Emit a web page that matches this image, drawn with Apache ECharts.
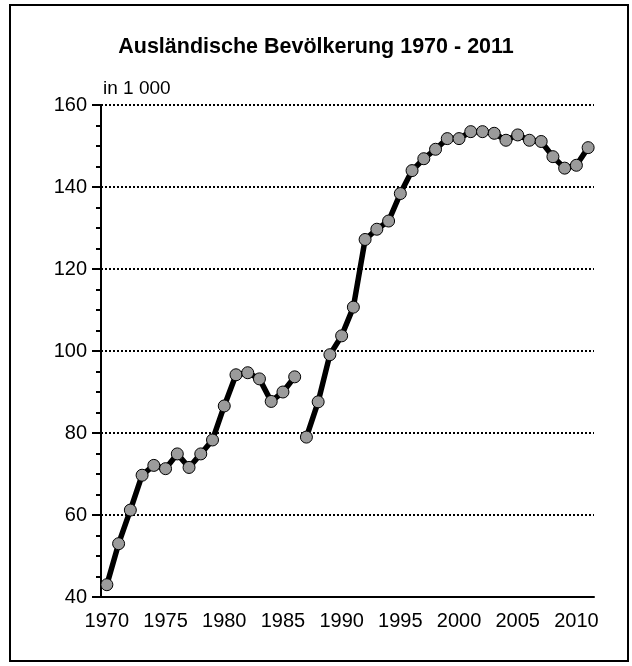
<!DOCTYPE html>
<html>
<head>
<meta charset="utf-8">
<script src="https://cdn.jsdelivr.net/npm/echarts@6/dist/echarts.min.js"></script>
<style>
  html, body { margin: 0; padding: 0; background: #fff; }
  #main { width: 632px; height: 666px; }
</style>
</head>
<body>
<div id="main"></div>
<script>
// Jahre 1970 - 2011
var years = [];
for (var y = 1970; y <= 2011; y++) years.push(String(y));

// Ausländische Bevölkerung in 1 000 (Bruch zwischen 1986 und 1987)
var valuesBefore = [43.0, 53.0, 61.2, 69.7, 72.1, 71.3, 74.9, 71.6, 74.9, 78.3,
                    86.6, 94.2, 94.7, 93.2, 87.7, 90.0, 93.7];
var valuesAfter = [79.0, 87.6, 99.1, 103.7, 110.7, 127.2, 129.7, 131.7, 138.4, 144.0,
                   146.9, 149.2, 151.8, 151.8, 153.5, 153.5, 153.1, 151.4, 152.7, 151.4,
                   151.1, 147.4, 144.6, 145.3, 149.6];

var yTicks = [40, 60, 80, 100, 120, 140, 160];

var dataA = valuesBefore.concat(valuesAfter.map(function () { return null; }));
var dataB = valuesBefore.map(function () { return null; }).concat(valuesAfter);

var font = '"Liberation Sans", Arial, sans-serif';

var myChart = echarts.init(document.getElementById('main'));

var lineSeries = function (data) {
  return {
    type: 'line',
    data: data,
    xAxisIndex: 0,
    symbol: 'circle',
    symbolSize: 12,
    showAllSymbol: true,
    connectNulls: false,
    lineStyle: { color: '#000', width: 5.5 },
    itemStyle: { color: '#9b9b9b', borderColor: '#000', borderWidth: 1 },
    z: 5
  };
};

var option = {
  animation: false,
  title: {
    text: 'Ausländische Bevölkerung 1970 - 2011',
    left: 'center',
    top: 31,
    textStyle: { fontFamily: font, fontSize: 21.5, fontWeight: 'bold', color: '#000' }
  },
  graphic: [{
    type: 'rect',
    shape: { x: 10, y: 5, width: 618, height: 656 },
    style: { fill: 'none', stroke: '#000', lineWidth: 2 },
    silent: true
  }],
  grid: { left: 101, right: 38, top: 105, bottom: 69 },
  xAxis: [{
    type: 'category',
    data: years,
    boundaryGap: true,
    axisLine: { lineStyle: { color: '#000', width: 2 } },
    axisTick: { alignWithLabel: true, interval: 0, length: 5, lineStyle: { color: '#000', width: 2 } },
    axisLabel: { show: false },
    splitLine: { show: false }
  }, {
    type: 'category',
    data: years,
    position: 'bottom',
    boundaryGap: true,
    axisLine: { show: false },
    axisTick: {
      alignWithLabel: true,
      length: 9,
      interval: function (i, v) { return Number(v) % 5 === 0; },
      lineStyle: { color: '#000', width: 2 }
    },
    axisLabel: {
      interval: function (i, v) { return Number(v) % 5 === 0; },
      margin: 14,
      fontFamily: font,
      fontSize: 20,
      color: '#000'
    }
  }],
  yAxis: {
    type: 'value',
    min: yTicks[0],
    max: yTicks[yTicks.length - 1],
    interval: 20,
    name: 'in 1 000',
    nameLocation: 'end',
    nameGap: 7,
    nameTextStyle: { fontFamily: font, fontSize: 19, color: '#000', align: 'left', padding: [0, 0, 0, 2] },
    axisLine: { show: true, lineStyle: { color: '#000', width: 2 } },
    axisTick: { show: true, length: 9, lineStyle: { color: '#000', width: 2 } },
    minorTick: { show: true, splitNumber: 4, length: 5, lineStyle: { color: '#000', width: 2 } },
    axisLabel: { margin: 14, fontFamily: font, fontSize: 20, color: '#000' },
    splitLine: { show: true, lineStyle: { color: '#000', width: 2, type: 'dotted' } }
  },
  series: [lineSeries(dataA), lineSeries(dataB)]
};

// 绘制图表
myChart.setOption(option);
</script>
</body>
</html>
